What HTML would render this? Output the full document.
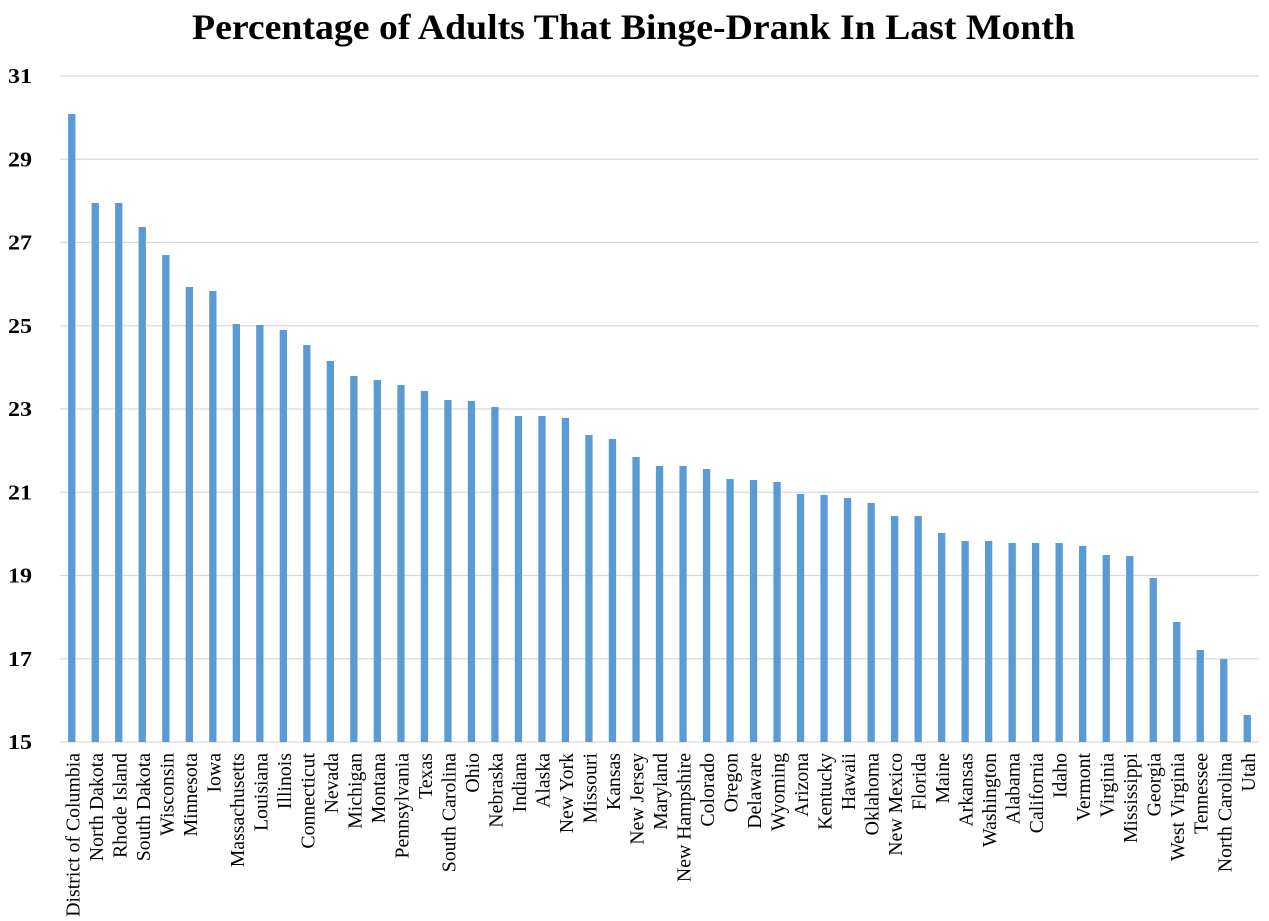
<!DOCTYPE html>
<html><head><meta charset="utf-8"><style>
html,body{margin:0;padding:0;background:#fff;}
svg{display:block;}
.t{font-family:"Liberation Serif",serif;font-size:19.8px;fill:#000;}
.y{font-family:"Liberation Serif",serif;font-size:21px;font-weight:bold;fill:#000;}
</style></head><body>
<svg width="1269" height="921" viewBox="0 0 1269 921" xmlns="http://www.w3.org/2000/svg">
<rect width="1269" height="921" fill="#fff"/>
<text x="192" y="39" textLength="883" lengthAdjust="spacingAndGlyphs" style="font-family:'Liberation Serif',serif;font-size:36px;font-weight:bold;">Percentage of Adults That Binge-Drank In Last Month</text>
<g stroke="#d9d9d9" stroke-width="1.3">
<line x1="60" x2="1259" y1="76" y2="76"/>
<line x1="60" x2="1259" y1="159.25" y2="159.25"/>
<line x1="60" x2="1259" y1="242.5" y2="242.5"/>
<line x1="60" x2="1259" y1="325.75" y2="325.75"/>
<line x1="60" x2="1259" y1="409" y2="409"/>
<line x1="60" x2="1259" y1="492.25" y2="492.25"/>
<line x1="60" x2="1259" y1="575.5" y2="575.5"/>
<line x1="60" x2="1259" y1="658.75" y2="658.75"/>
<line x1="60" x2="1259" y1="742" y2="742"/>
</g>
<g class="y">
<text class="y" x="8" y="83" textLength="24" lengthAdjust="spacingAndGlyphs">31</text>
<text class="y" x="8" y="166.25" textLength="24" lengthAdjust="spacingAndGlyphs">29</text>
<text class="y" x="8" y="249.5" textLength="24" lengthAdjust="spacingAndGlyphs">27</text>
<text class="y" x="8" y="332.75" textLength="24" lengthAdjust="spacingAndGlyphs">25</text>
<text class="y" x="8" y="416" textLength="24" lengthAdjust="spacingAndGlyphs">23</text>
<text class="y" x="8" y="499.25" textLength="24" lengthAdjust="spacingAndGlyphs">21</text>
<text class="y" x="8" y="582.5" textLength="24" lengthAdjust="spacingAndGlyphs">19</text>
<text class="y" x="8" y="665.75" textLength="24" lengthAdjust="spacingAndGlyphs">17</text>
<text class="y" x="8" y="749" textLength="24" lengthAdjust="spacingAndGlyphs">15</text>
</g>
<g fill="#5b9bd5">
<rect x="68.1" y="114" width="7.3" height="628"/>
<rect x="91.6" y="203" width="7.3" height="539"/>
<rect x="115.1" y="203" width="7.3" height="539"/>
<rect x="138.6" y="227" width="7.3" height="515"/>
<rect x="162.2" y="255" width="7.3" height="487"/>
<rect x="185.7" y="287" width="7.3" height="455"/>
<rect x="209.2" y="291" width="7.3" height="451"/>
<rect x="232.7" y="324" width="7.3" height="418"/>
<rect x="256.2" y="325" width="7.3" height="417"/>
<rect x="279.7" y="330" width="7.3" height="412"/>
<rect x="303.2" y="345" width="7.3" height="397"/>
<rect x="326.7" y="361" width="7.3" height="381"/>
<rect x="350.2" y="376" width="7.3" height="366"/>
<rect x="373.7" y="380" width="7.3" height="362"/>
<rect x="397.3" y="385" width="7.3" height="357"/>
<rect x="420.8" y="391" width="7.3" height="351"/>
<rect x="444.3" y="400" width="7.3" height="342"/>
<rect x="467.8" y="401" width="7.3" height="341"/>
<rect x="491.3" y="407" width="7.3" height="335"/>
<rect x="514.8" y="416" width="7.3" height="326"/>
<rect x="538.3" y="416" width="7.3" height="326"/>
<rect x="561.8" y="418" width="7.3" height="324"/>
<rect x="585.3" y="435" width="7.3" height="307"/>
<rect x="608.8" y="439" width="7.3" height="303"/>
<rect x="632.4" y="457" width="7.3" height="285"/>
<rect x="655.9" y="466" width="7.3" height="276"/>
<rect x="679.4" y="466" width="7.3" height="276"/>
<rect x="702.9" y="469" width="7.3" height="273"/>
<rect x="726.4" y="479" width="7.3" height="263"/>
<rect x="749.9" y="480" width="7.3" height="262"/>
<rect x="773.4" y="482" width="7.3" height="260"/>
<rect x="796.9" y="494" width="7.3" height="248"/>
<rect x="820.4" y="495" width="7.3" height="247"/>
<rect x="843.9" y="498" width="7.3" height="244"/>
<rect x="867.5" y="503" width="7.3" height="239"/>
<rect x="891.0" y="516" width="7.3" height="226"/>
<rect x="914.5" y="516" width="7.3" height="226"/>
<rect x="938.0" y="533" width="7.3" height="209"/>
<rect x="961.5" y="541" width="7.3" height="201"/>
<rect x="985.0" y="541" width="7.3" height="201"/>
<rect x="1008.5" y="543" width="7.3" height="199"/>
<rect x="1032.0" y="543" width="7.3" height="199"/>
<rect x="1055.5" y="543" width="7.3" height="199"/>
<rect x="1079.0" y="546" width="7.3" height="196"/>
<rect x="1102.6" y="555" width="7.3" height="187"/>
<rect x="1126.1" y="556" width="7.3" height="186"/>
<rect x="1149.6" y="578" width="7.3" height="164"/>
<rect x="1173.1" y="622" width="7.3" height="120"/>
<rect x="1196.6" y="650" width="7.3" height="92"/>
<rect x="1220.1" y="659" width="7.3" height="83"/>
<rect x="1243.6" y="715" width="7.3" height="27"/>
</g>
<g class="t" text-anchor="end">
<text class="t" transform="translate(79.3,753) rotate(-90)">District of Columbia</text>
<text class="t" transform="translate(102.8,753) rotate(-90)">North Dakota</text>
<text class="t" transform="translate(126.3,753) rotate(-90)">Rhode Island</text>
<text class="t" transform="translate(149.8,753) rotate(-90)">South Dakota</text>
<text class="t" transform="translate(173.3,753) rotate(-90)">Wisconsin</text>
<text class="t" transform="translate(196.8,753) rotate(-90)">Minnesota</text>
<text class="t" transform="translate(220.3,753) rotate(-90)">Iowa</text>
<text class="t" transform="translate(243.8,753) rotate(-90)">Massachusetts</text>
<text class="t" transform="translate(267.3,753) rotate(-90)">Louisiana</text>
<text class="t" transform="translate(290.9,753) rotate(-90)">Illinois</text>
<text class="t" transform="translate(314.4,753) rotate(-90)">Connecticut</text>
<text class="t" transform="translate(337.9,753) rotate(-90)">Nevada</text>
<text class="t" transform="translate(361.4,753) rotate(-90)">Michigan</text>
<text class="t" transform="translate(384.9,753) rotate(-90)">Montana</text>
<text class="t" transform="translate(408.4,753) rotate(-90)">Pennsylvania</text>
<text class="t" transform="translate(431.9,753) rotate(-90)">Texas</text>
<text class="t" transform="translate(455.4,753) rotate(-90)">South Carolina</text>
<text class="t" transform="translate(478.9,753) rotate(-90)">Ohio</text>
<text class="t" transform="translate(502.4,753) rotate(-90)">Nebraska</text>
<text class="t" transform="translate(526.0,753) rotate(-90)">Indiana</text>
<text class="t" transform="translate(549.5,753) rotate(-90)">Alaska</text>
<text class="t" transform="translate(573.0,753) rotate(-90)">New York</text>
<text class="t" transform="translate(596.5,753) rotate(-90)">Missouri</text>
<text class="t" transform="translate(620.0,753) rotate(-90)">Kansas</text>
<text class="t" transform="translate(643.5,753) rotate(-90)">New Jersey</text>
<text class="t" transform="translate(667.0,753) rotate(-90)">Maryland</text>
<text class="t" transform="translate(690.5,753) rotate(-90)">New Hampshire</text>
<text class="t" transform="translate(714.0,753) rotate(-90)">Colorado</text>
<text class="t" transform="translate(737.5,753) rotate(-90)">Oregon</text>
<text class="t" transform="translate(761.1,753) rotate(-90)">Delaware</text>
<text class="t" transform="translate(784.6,753) rotate(-90)">Wyoming</text>
<text class="t" transform="translate(808.1,753) rotate(-90)">Arizona</text>
<text class="t" transform="translate(831.6,753) rotate(-90)">Kentucky</text>
<text class="t" transform="translate(855.1,753) rotate(-90)">Hawaii</text>
<text class="t" transform="translate(878.6,753) rotate(-90)">Oklahoma</text>
<text class="t" transform="translate(902.1,753) rotate(-90)">New Mexico</text>
<text class="t" transform="translate(925.6,753) rotate(-90)">Florida</text>
<text class="t" transform="translate(949.1,753) rotate(-90)">Maine</text>
<text class="t" transform="translate(972.6,753) rotate(-90)">Arkansas</text>
<text class="t" transform="translate(996.2,753) rotate(-90)">Washington</text>
<text class="t" transform="translate(1019.7,753) rotate(-90)">Alabama</text>
<text class="t" transform="translate(1043.2,753) rotate(-90)">California</text>
<text class="t" transform="translate(1066.7,753) rotate(-90)">Idaho</text>
<text class="t" transform="translate(1090.2,753) rotate(-90)">Vermont</text>
<text class="t" transform="translate(1113.7,753) rotate(-90)">Virginia</text>
<text class="t" transform="translate(1137.2,753) rotate(-90)">Mississippi</text>
<text class="t" transform="translate(1160.7,753) rotate(-90)">Georgia</text>
<text class="t" transform="translate(1184.2,753) rotate(-90)">West Virginia</text>
<text class="t" transform="translate(1207.7,753) rotate(-90)">Tennessee</text>
<text class="t" transform="translate(1231.3,753) rotate(-90)">North Carolina</text>
<text class="t" transform="translate(1254.8,753) rotate(-90)">Utah</text>
</g>
</svg>
</body></html>
